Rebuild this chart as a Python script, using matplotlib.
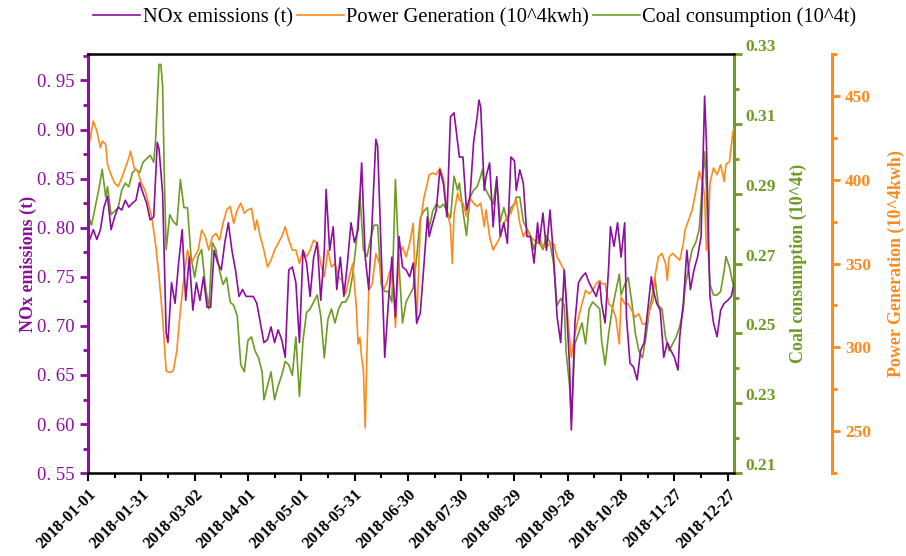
import numpy as np
import matplotlib
matplotlib.use("Agg")
import matplotlib.pyplot as plt
import matplotlib.dates as mdates
import matplotlib.transforms as mtransforms
from matplotlib.ticker import FixedLocator, FuncFormatter

# dias desde 2018-01-01 y valores
nox_days = [0, 3, 5, 7, 9, 11, 13, 15, 17, 19, 21, 23, 25, 27, 29, 31, 33, 35, 37, 39, 40, 42, 44, 45, 47, 49,
            51, 53, 55, 57, 59, 61, 63, 65, 67, 69, 71, 73, 75, 77, 79, 81, 83, 85, 87, 89, 91, 93, 95, 97, 99,
            101, 103, 105, 107, 109, 111, 113, 115, 117, 119, 121, 123, 125, 127, 129, 131, 133, 134, 136, 138,
            140, 142, 144, 146, 148, 150, 152, 154, 156, 158, 160, 162, 163, 165, 167, 169, 171, 173, 175, 177,
            179, 181, 183, 185, 187, 189, 191, 192, 194, 196, 198, 200, 202, 204, 206, 208, 209, 211, 213, 215,
            217, 219, 220, 221, 223, 224, 226, 228, 230, 232, 234, 236, 238, 240, 241, 243, 245, 247, 249, 251,
            253, 254, 256, 258, 260, 262, 264, 266, 268, 269, 271, 272, 274, 276, 278, 280, 282, 284, 286, 288,
            289, 291, 293, 294, 296, 298, 300, 302, 303, 305, 307, 309, 311, 313, 315, 317, 318, 320, 322, 324,
            326, 328, 330, 332, 333, 335, 337, 339, 341, 343, 345, 347, 348, 349, 350, 352, 354, 356, 358, 360,
            362, 364]
nox = [0.783, 0.798, 0.788, 0.798, 0.821, 0.832, 0.798, 0.811, 0.821, 0.818, 0.828, 0.821, 0.825, 0.828, 0.846,
       0.835, 0.825, 0.808, 0.811, 0.887, 0.880, 0.835, 0.693, 0.683, 0.744, 0.723, 0.764, 0.798, 0.726, 0.770,
       0.716, 0.744, 0.726, 0.750, 0.719, 0.719, 0.777, 0.764, 0.757, 0.785, 0.805, 0.777, 0.757, 0.730, 0.737,
       0.730, 0.730, 0.730, 0.723, 0.703, 0.683, 0.686, 0.699, 0.683, 0.696, 0.686, 0.668, 0.757, 0.760, 0.744,
       0.683, 0.777, 0.764, 0.730, 0.770, 0.785, 0.726, 0.777, 0.839, 0.777, 0.801, 0.737, 0.770, 0.730, 0.764,
       0.805, 0.785, 0.798, 0.866, 0.770, 0.737, 0.811, 0.890, 0.883, 0.777, 0.668, 0.723, 0.770, 0.709, 0.791,
       0.760, 0.757, 0.750, 0.764, 0.703, 0.713, 0.761, 0.811, 0.791, 0.805, 0.818, 0.859, 0.845, 0.811, 0.913,
       0.917, 0.887, 0.872, 0.872, 0.818, 0.832, 0.887, 0.913, 0.930, 0.923, 0.838, 0.852, 0.866, 0.801, 0.852,
       0.791, 0.805, 0.784, 0.872, 0.868, 0.838, 0.859, 0.845, 0.791, 0.791, 0.764, 0.805, 0.784, 0.815, 0.777,
       0.818, 0.770, 0.709, 0.683, 0.757, 0.730, 0.658, 0.594, 0.703, 0.744, 0.750, 0.754, 0.744, 0.737, 0.730,
       0.744, 0.723, 0.703, 0.760, 0.801, 0.781, 0.805, 0.770, 0.805, 0.709, 0.662, 0.658, 0.645, 0.675, 0.683,
       0.716, 0.750, 0.737, 0.723, 0.716, 0.668, 0.683, 0.675, 0.668, 0.655, 0.689, 0.723, 0.777, 0.737, 0.757,
       0.770, 0.791, 0.934, 0.887, 0.805, 0.730, 0.703, 0.689, 0.716, 0.723, 0.726, 0.730, 0.747]

power_days = [0, 1, 3, 5, 7, 8, 10, 11, 13, 15, 17, 19, 21, 23, 24, 26, 28, 30, 32, 34, 36, 38, 40, 42, 44, 46,
              48, 50, 52, 54, 56, 58, 60, 62, 64, 66, 68, 70, 72, 74, 76, 78, 80, 82, 84, 86, 88, 90, 92, 94, 95,
              97, 99, 101, 103, 105, 107, 109, 111, 113, 115, 117, 119, 121, 123, 125, 127, 129, 131, 133, 135,
              137, 139, 141, 143, 145, 147, 149, 151, 152, 153, 154, 155, 156, 157, 158, 160, 162, 164, 166, 168,
              170, 172, 173, 175, 177, 179, 181, 183, 185, 187, 189, 191, 192, 194, 196, 198, 200, 202, 204, 205,
              206, 208, 209, 211, 213, 215, 217, 219, 221, 223, 224, 226, 228, 230, 232, 234, 236, 238, 240, 241,
              243, 245, 247, 249, 251, 253, 254, 256, 258, 260, 262, 264, 266, 268, 269, 271, 272, 274, 276, 278,
              280, 282, 284, 286, 288, 289, 291, 293, 295, 297, 299, 300, 302, 304, 306, 308, 310, 312, 314, 316,
              318, 319, 321, 323, 325, 326, 327, 329, 331, 333, 335, 336, 338, 340, 342, 344, 346, 347, 348, 349,
              350, 352, 354, 356, 358, 359, 361, 363, 364]
power = [443, 423, 435, 429, 419, 423, 421, 409, 403, 398, 396, 401, 407, 413, 417, 407, 405, 398, 394, 386, 377,
         362, 342, 318, 286, 285, 286, 298, 322, 342, 358, 350, 354, 358, 370, 366, 358, 366, 368, 364, 374, 382,
         384, 374, 382, 386, 380, 382, 383, 370, 376, 366, 358, 348, 352, 358, 362, 366, 372, 364, 358, 358, 350,
         358, 354, 358, 364, 362, 350, 342, 358, 348, 350, 342, 340, 332, 342, 350, 324, 302, 306, 294, 286, 252,
         298, 334, 338, 356, 350, 334, 338, 346, 334, 312, 354, 360, 354, 362, 374, 314, 374, 389, 398, 403, 404,
         403, 407, 401, 382, 372, 350, 380, 392, 388, 386, 378, 389, 386, 384, 386, 372, 382, 366, 358, 362, 366,
         374, 378, 380, 386, 388, 374, 366, 370, 366, 364, 362, 366, 360, 360, 362, 362, 354, 350, 346, 330, 306,
         294, 308, 318, 326, 334, 332, 334, 338, 340, 338, 338, 326, 324, 318, 302, 330, 326, 326, 322, 318, 320,
         314, 314, 322, 328, 342, 354, 356, 350, 340, 354, 356, 354, 352, 362, 370, 376, 382, 393, 405, 398, 390,
         358, 364, 398, 407, 403, 409, 399, 409, 411, 429, 431]

coal_days = [0, 2, 4, 6, 8, 10, 11, 13, 15, 17, 19, 21, 23, 25, 27, 29, 31, 33, 35, 37, 38, 40, 41, 42, 43, 44,
             46, 48, 50, 52, 54, 56, 58, 60, 62, 64, 66, 68, 70, 72, 74, 76, 78, 80, 82, 84, 86, 88, 90, 92, 94,
             96, 98, 99, 101, 103, 105, 107, 109, 111, 113, 115, 117, 119, 121, 123, 125, 127, 129, 131, 133, 135,
             137, 139, 141, 143, 145, 147, 149, 151, 153, 155, 157, 159, 161, 163, 165, 167, 169, 171, 173, 175,
             177, 179, 181, 183, 185, 187, 189, 191, 192, 194, 196, 198, 200, 202, 204, 206, 208, 209, 211, 213,
             215, 217, 219, 221, 222, 223, 224, 226, 228, 230, 232, 234, 236, 238, 240, 241, 243, 245, 247, 249,
             251, 253, 254, 256, 258, 260, 262, 264, 266, 268, 269, 271, 272, 274, 276, 278, 280, 282, 284, 286,
             288, 289, 291, 293, 295, 297, 299, 300, 302, 304, 306, 308, 310, 312, 314, 316, 318, 319, 321, 323,
             325, 327, 329, 331, 333, 335, 336, 338, 340, 342, 344, 346, 347, 348, 349, 350, 352, 354, 356, 358,
             359, 361, 363, 364]
coal = [0.284, 0.281, 0.286, 0.291, 0.297, 0.289, 0.292, 0.284, 0.285, 0.286, 0.291, 0.293, 0.292, 0.296, 0.297,
        0.296, 0.299, 0.300, 0.301, 0.299, 0.305, 0.327, 0.327, 0.321, 0.294, 0.274, 0.284, 0.282, 0.281, 0.294,
        0.286, 0.286, 0.272, 0.266, 0.272, 0.274, 0.264, 0.257, 0.276, 0.274, 0.268, 0.264, 0.266, 0.259, 0.258,
        0.255, 0.241, 0.239, 0.248, 0.249, 0.245, 0.243, 0.239, 0.231, 0.235, 0.239, 0.231, 0.235, 0.238, 0.242,
        0.241, 0.238, 0.249, 0.232, 0.248, 0.256, 0.257, 0.259, 0.261, 0.255, 0.243, 0.254, 0.257, 0.253, 0.257,
        0.259, 0.259, 0.261, 0.267, 0.276, 0.290, 0.274, 0.272, 0.277, 0.281, 0.281, 0.264, 0.262, 0.262, 0.259,
        0.294, 0.270, 0.253, 0.259, 0.261, 0.263, 0.272, 0.283, 0.285, 0.286, 0.280, 0.285, 0.287, 0.286, 0.287,
        0.285, 0.283, 0.295, 0.291, 0.293, 0.285, 0.278, 0.289, 0.291, 0.292, 0.295, 0.297, 0.292, 0.291, 0.289,
        0.287, 0.294, 0.282, 0.286, 0.282, 0.286, 0.287, 0.289, 0.289, 0.282, 0.280, 0.278, 0.274, 0.278, 0.276,
        0.274, 0.278, 0.276, 0.270, 0.258, 0.260, 0.258, 0.245, 0.235, 0.225, 0.247, 0.250, 0.253, 0.247, 0.257,
        0.259, 0.258, 0.257, 0.248, 0.241, 0.250, 0.257, 0.262, 0.267, 0.261, 0.264, 0.266, 0.259, 0.250, 0.245,
        0.243, 0.249, 0.257, 0.262, 0.266, 0.258, 0.257, 0.249, 0.245, 0.247, 0.249, 0.252, 0.257, 0.263, 0.269,
        0.274, 0.276, 0.280, 0.295, 0.302, 0.292, 0.274, 0.264, 0.261, 0.261, 0.262, 0.268, 0.272, 0.269, 0.264,
        0.267]

start = np.datetime64('2018-01-01')
tick_dates = start + np.arange(0, 361, 30)
minor_dates = start + np.arange(15, 361, 30)

purple = '#8C0F9E'
orange = '#FF8A1C'
green = '#6E9C22'
serif = 'Liberation Serif'

fig = plt.figure(figsize=(9.06, 5.56), dpi=100)
ax = fig.add_axes([0.0971, 0.149, 0.713, 0.754])
ax2 = ax.twinx()
ax3 = ax.twinx()

l1, = ax.plot(start + np.array(nox_days), nox, color=purple, lw=1.2, label='NOx emissions (t)')
l3, = ax2.plot(start + np.array(coal_days), coal, color=green, lw=1.2, label='Coal consumption (10^4t)')
l2, = ax3.plot(start + np.array(power_days), power, color=orange, lw=1.2, label='Power Generation (10^4kwh)')
ax.set_zorder(ax3.get_zorder() + 1)
ax.patch.set_visible(False)

# eje x
ax.set_xlim(mdates.date2num(start), mdates.date2num(start) + 363.5)
ax.xaxis.set_major_locator(FixedLocator(mdates.date2num(tick_dates)))
ax.xaxis.set_minor_locator(FixedLocator(mdates.date2num(minor_dates)))
ax.xaxis.set_major_formatter(mdates.DateFormatter('%Y-%m-%d'))
ax.tick_params(axis='x', which='major', length=6, width=1.5, direction='out')
ax.tick_params(axis='x', which='minor', length=3.5, width=1.5, direction='out')
for t in ax.get_xticklabels():
    t.set_rotation(45)
    t.set_ha('right')
    t.set_rotation_mode('anchor')
    t.set_fontfamily(serif)
    t.set_fontweight('bold')
    t.set_fontsize(11.8)

# eje NOx (izquierda)
ax.set_ylim(0.55, 0.977)
ax.set_yticks(np.arange(0.55, 0.96, 0.05))
ax.set_yticks(np.arange(0.575, 0.98, 0.05), minor=True)
ax.yaxis.set_major_formatter(FuncFormatter(lambda v, p: f'{v:.2f}'.replace('.', '. ')))
ax.tick_params(axis='y', which='both', colors=purple, width=2)
ax.tick_params(axis='y', which='major', length=6)
ax.tick_params(axis='y', which='minor', length=3.5)
for t in ax.get_yticklabels():
    t.set_fontfamily(serif)
    t.set_fontsize(13.5)
ax.spines['left'].set_color(purple)
ax.spines['left'].set_linewidth(2.2)
ax.spines['bottom'].set_linewidth(1.8)
ax.spines['top'].set_linewidth(1.8)
ax.spines['right'].set_visible(False)
ax.set_ylabel('NOx emissions (t)', color=purple, fontfamily=serif, fontweight='bold', fontsize=13, labelpad=0)

# eje carbon (derecha)
ax2.set_ylim(0.21, 0.33)
ax2.set_yticks(np.arange(0.21, 0.335, 0.02))
ax2.set_yticks(np.arange(0.22, 0.33, 0.02), minor=True)
ax2.yaxis.set_major_formatter(FuncFormatter(lambda v, p: f'{v:.2f}'))
ax2.tick_params(axis='y', which='both', colors=green, width=2, pad=2)
ax2.tick_params(axis='y', which='major', length=6)
ax2.tick_params(axis='y', which='minor', length=3.5)
# las etiquetas verdes van un poco por encima de su marca
shift = mtransforms.ScaledTranslation(0, 0.09, fig.dpi_scale_trans)
for t in ax2.get_yticklabels():
    t.set_fontfamily(serif)
    t.set_fontweight('bold')
    t.set_fontsize(12.5)
    t.set_transform(t.get_transform() + shift)
for s in ['left', 'top', 'bottom']:
    ax2.spines[s].set_visible(False)
ax2.spines['right'].set_color(green)
ax2.spines['right'].set_linewidth(2.2)
ax2.set_ylabel('Coal consumption (10^4t)', color=green, fontfamily=serif, fontweight='bold', fontsize=13, labelpad=10)

# eje generacion (derecha exterior)
ax3.spines['right'].set_position(('axes', 1.1517))
ax3.set_ylim(225, 475)
ax3.set_yticks(np.arange(250, 451, 50))
ax3.set_yticks(np.arange(225, 476, 50), minor=True)
ax3.tick_params(axis='y', which='both', colors=orange, width=2)
ax3.tick_params(axis='y', which='major', length=6)
ax3.tick_params(axis='y', which='minor', length=3.5)
for t in ax3.get_yticklabels():
    t.set_fontfamily(serif)
    t.set_fontweight('bold')
    t.set_fontsize(12.5)
for s in ['left', 'top', 'bottom']:
    ax3.spines[s].set_visible(False)
ax3.spines['right'].set_color(orange)
ax3.spines['right'].set_linewidth(2.2)
ax3.set_ylabel('Power Generation (10^4kwh)', color=orange, fontfamily=serif, fontweight='bold', fontsize=13, labelpad=12)

fig.legend(handles=[l1, l2, l3], loc='center', bbox_to_anchor=(0.524, 0.969), ncol=3, frameon=False,
           prop={'family': serif, 'size': 14.8}, handlelength=2.3, handletextpad=0.1, columnspacing=0.2)

fig.savefig('out.png', dpi=100)
